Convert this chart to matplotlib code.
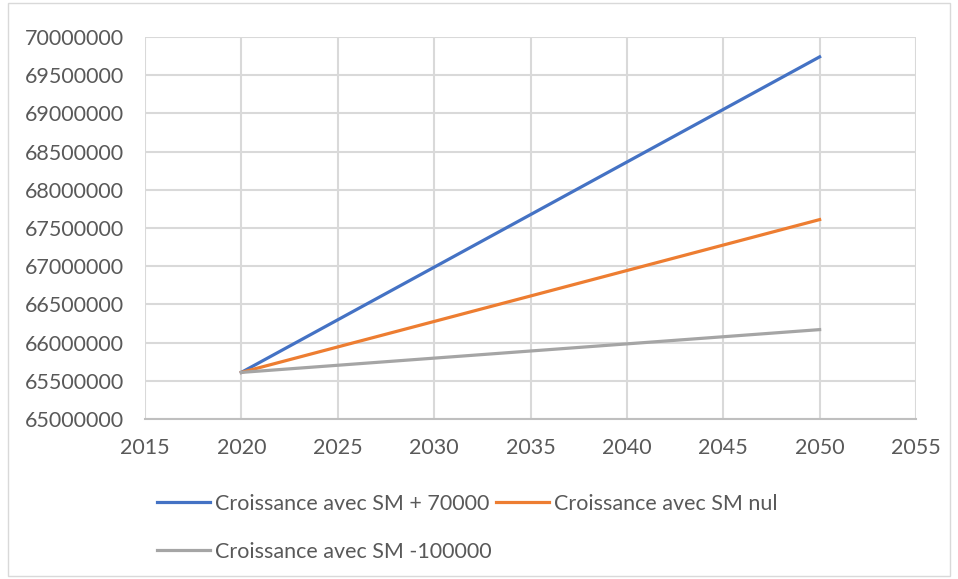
import matplotlib.pyplot as plt
from matplotlib.patches import Rectangle

# données
annees = [2020, 2050]
sm_plus_70000 = [65610000, 69740000]
sm_nul = [65610000, 67610000]
sm_moins_100000 = [65610000, 66170000]

labels = ['Croissance avec SM + 70000', 'Croissance avec SM nul', 'Croissance avec SM -100000']
couleurs = ['#4472C4', '#ED7D31', '#A5A5A5']

plt.rcParams['font.family'] = ['Lato', 'DejaVu Sans']

fig = plt.figure(figsize=(9.58, 5.79), dpi=100)
ax = fig.add_axes([145 / 958, 1 - 419 / 579, (916 - 145) / 958, (419 - 37) / 579])

l1, = ax.plot(annees, sm_plus_70000, color=couleurs[0], lw=2.3, label=labels[0])
l2, = ax.plot(annees, sm_nul, color=couleurs[1], lw=2.3, label=labels[1])
l3, = ax.plot(annees, sm_moins_100000, color=couleurs[2], lw=2.3, label=labels[2])

ax.set_xlim(2015, 2055)
ax.set_ylim(65000000, 70000000)
ax.set_xticks(range(2015, 2056, 5))
ax.set_yticks(range(65000000, 70000001, 500000))
ax.set_yticklabels([str(v) for v in range(65000000, 70000001, 500000)])

ax.grid(True, color='#D9D9D9', lw=1.5)
ax.set_axisbelow(True)
for s in ['top', 'right', 'left']:
    ax.spines[s].set_visible(False)
ax.spines['bottom'].set_color('#BFBFBF')
ax.spines['bottom'].set_linewidth(1.5)
ax.tick_params(length=0, labelsize=15.5, colors='#595959')
ax.tick_params(axis='y', pad=15)
ax.tick_params(axis='x', pad=14)

fig.legend([l1, l3, l2], [labels[0], labels[2], labels[1]], ncol=2,
           loc='upper left', bbox_to_anchor=(146 / 958, 1 - 483 / 579),
           frameon=False, fontsize=15.5, labelcolor='#595959',
           handlelength=2.45, handletextpad=0.25, columnspacing=0.2,
           labelspacing=1.3, borderpad=0)

# bordure de la zone du graphique
fig.patches.append(Rectangle((8 / 958, 3 / 579), 942 / 958, 573 / 579,
                             transform=fig.transFigure, fill=False,
                             edgecolor='#D9D9D9', lw=1))

fig.savefig('out.png', dpi=100)
